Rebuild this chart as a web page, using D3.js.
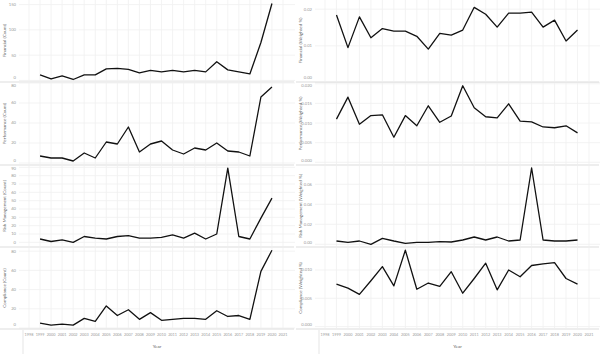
<!DOCTYPE html>
<html>
<head>
<meta charset="utf-8">
<script src="https://cdn.jsdelivr.net/npm/d3@7"></script>
<style>
  body { margin: 0; background: #fff; }
  svg { display: block; font-family: Lato, "Open Sans", sans-serif; }
</style>
</head>
<body>
<div id="chart"></div>
<script>
// Data
const years = [1999, 2000, 2001, 2002, 2003, 2004, 2005, 2006, 2007, 2008, 2009, 2010,
               2011, 2012, 2013, 2014, 2015, 2016, 2017, 2018, 2019, 2020];
const tickYears = [1998, 1999, 2000, 2001, 2002, 2003, 2004, 2005, 2006, 2007, 2008, 2009,
                   2010, 2011, 2012, 2013, 2014, 2015, 2016, 2017, 2018, 2019, 2020, 2021];

const financialCount = [11, 3, 9, 2, 11, 11, 23, 24, 22, 15, 20, 17, 20, 17, 20, 17, 37, 21, 17, 13, 75, 152];
const performanceCount = [7, 5, 5, 2, 10, 5, 21, 19, 36, 11, 19, 22, 13, 9, 15, 13, 20, 12, 11, 7, 66, 76];
const riskCount = [4, 1, 3, 0, 7, 5, 4, 7, 8, 5, 5, 6, 9, 5, 11, 4, 10, 89, 7, 4, 29, 53];
const complianceCount = [5, 3, 4, 3, 10, 7, 23, 13, 19, 9, 16, 8, 9, 10, 10, 9, 18, 12, 13, 9, 59, 81];

const financialPct = [0.0184, 0.0095, 0.0179, 0.0122, 0.0147, 0.0140, 0.0140, 0.0126, 0.0091, 0.0134, 0.0129,
                      0.0143, 0.0205, 0.0186, 0.0151, 0.0189, 0.0189, 0.0192, 0.0151, 0.0170, 0.0113, 0.0143];
const performancePct = [0.0110, 0.0166, 0.0097, 0.0119, 0.0121, 0.0064, 0.0119, 0.0093, 0.0144, 0.0102, 0.0118,
                        0.0195, 0.0139, 0.0116, 0.0113, 0.0149, 0.0105, 0.0103, 0.0090, 0.0088, 0.0093, 0.0075];
const riskPct = [0.0033, 0.0020, 0.0033, 0.0000, 0.0060, 0.0033, 0.0010, 0.0020, 0.0020, 0.0026, 0.0023,
                 0.0043, 0.0073, 0.0043, 0.0073, 0.0033, 0.0043, 0.0763, 0.0043, 0.0033, 0.0033, 0.0043];
const compliancePct = [0.0075, 0.0068, 0.0057, 0.0081, 0.0106, 0.0072, 0.0135, 0.0066, 0.0077, 0.0071, 0.0097,
                       0.0059, 0.0085, 0.0112, 0.0065, 0.0100, 0.0088, 0.0108, 0.0111, 0.0113, 0.0085, 0.0075];

const countTitles = ["Financial (Count)", "Performance (Count)", "Risk Management (Count)", "Compliance (Count)"];
const pctTitles = ["Financial (Weighted %)", "Performance (Weighted %)", "Risk Management (Weighted %)", "Compliance (Weighted %)"];

const countTicks = [[0, 50, 100, 150], [0, 20, 40, 60, 80], [0, 10, 20, 30, 40, 50, 60, 70, 80, 90], [0, 20, 40, 60, 80]];
const pctTicks = [[0, 0.01, 0.02], [0, 0.005, 0.01, 0.015, 0.02], [0, 0.02, 0.04, 0.06], [0, 0.005, 0.01]];

const countSeries = [financialCount, performanceCount, riskCount, complianceCount];
const pctSeries = [financialPct, performancePct, riskPct, compliancePct];

// Layout
const width = 600;
const height = 354;
const rows = [{top: 0, bottom: 81}, {top: 83, bottom: 164}, {top: 166, bottom: 246}, {top: 248, bottom: 328}];
const countDomains = [[-1, 159], [-1, 80], [-4.4, 91.6], [0, 83.3]];
const pctDomains = [[0.0004, 0.0225], [-0.00043, 0.0202], [-0.0017, 0.0783], [-0.00025, 0.01389]];

// number formats per row
const countFormats = [d3.format("d"), d3.format("d"), d3.format("d"), d3.format("d")];
const pctFormats = [d3.format(".2f"), d3.format(".3f"), d3.format(".2f"), d3.format(".3f")];

const panels = [
    {titleX: 4, tickX: 16, left: 19, right: 295, x: d3.scaleLinear([1998, 2021], [29, 283]),
     series: countSeries, titles: countTitles, ticks: countTicks, domains: countDomains, formats: countFormats},
    {titleX: 300, tickX: 312, left: 315, right: 600, x: d3.scaleLinear([1998, 2021], [325, 589]),
     series: pctSeries, titles: pctTitles, ticks: pctTicks, domains: pctDomains, formats: pctFormats}
];

const svg = d3.select("#chart")
    .append("svg")
    .attr("viewBox", [0, 0, width, height])
    .attr("width", width)
    .attr("height", height);

const gridColor = "#f0f0f0";
const sepColor = "#dedede";
const tickColor = "#9a9a9a";
const titleColor = "#666";

panels.forEach(p => {
    const g = svg.append("g");

    rows.forEach((row, ri) => {
        const y = d3.scaleLinear(p.domains[ri], [row.bottom, row.top]);
        const fmt = p.formats[ri];
        const ticks = p.ticks[ri];

        // vertical year grid
        g.append("g")
            .selectAll("line")
            .data(tickYears)
            .join("line")
            .attr("x1", d => p.x(d)).attr("x2", d => p.x(d))
            .attr("y1", row.top).attr("y2", row.bottom)
            .attr("stroke", gridColor)
            .attr("stroke-width", 0.8);

        // horizontal value grid
        g.append("g")
            .selectAll("line")
            .data(ticks)
            .join("line")
            .attr("x1", p.left).attr("x2", p.right)
            .attr("y1", d => y(d)).attr("y2", d => y(d))
            .attr("stroke", gridColor)
            .attr("stroke-width", 0.8);

        // tick labels, kept inside the pane
        g.append("g")
            .selectAll("text")
            .data(ticks)
            .join("text")
            .attr("x", p.tickX)
            .attr("y", d => Math.max(row.top + 3, Math.min(row.bottom - 3, y(d))))
            .attr("dy", "0.35em")
            .attr("text-anchor", "end")
            .attr("font-size", 4.2)
            .attr("fill", tickColor)
            .text(d => fmt(d));

        // axis title
        g.append("text")
            .attr("transform", `translate(${p.titleX},${(row.top + row.bottom) / 2}) rotate(-90)`)
            .attr("dy", "0.35em")
            .attr("text-anchor", "middle")
            .attr("font-size", 4.6)
            .attr("fill", titleColor)
            .text(p.titles[ri]);

        // the series line
        const line = d3.line()
            .x((d, i) => p.x(years[i]))
            .y(d => y(d));

        g.append("path")
            .datum(p.series[ri])
            .attr("fill", "none")
            .attr("stroke", "#111")
            .attr("stroke-width", 1.3)
            .attr("stroke-linejoin", "round")
            .attr("d", line);

        // row separator
        g.append("line")
            .attr("x1", p.left - 19).attr("x2", p.right - 1)
            .attr("y1", row.bottom + 1).attr("y2", row.bottom + 1)
            .attr("stroke", sepColor)
            .attr("stroke-width", 1.2);
    });

    // x axis labels
    g.append("g")
        .selectAll("text")
        .data(tickYears)
        .join("text")
        .attr("x", d => p.x(d))
        .attr("y", 335)
        .attr("dy", "0.35em")
        .attr("text-anchor", "middle")
        .attr("font-size", 3.8)
        .attr("fill", tickColor)
        .text(d => d);

    g.append("text")
        .attr("x", (p.left + p.right) / 2)
        .attr("y", 346)
        .attr("dy", "0.35em")
        .attr("text-anchor", "middle")
        .attr("font-size", 4.6)
        .attr("fill", titleColor)
        .text("Year");

    // divider between row headers and the x axis
    g.append("line")
        .attr("x1", p.left + 4).attr("x2", p.left + 4)
        .attr("y1", 330).attr("y2", 354)
        .attr("stroke", sepColor)
        .attr("stroke-width", 0.8);
});
</script>
</body>
</html>
